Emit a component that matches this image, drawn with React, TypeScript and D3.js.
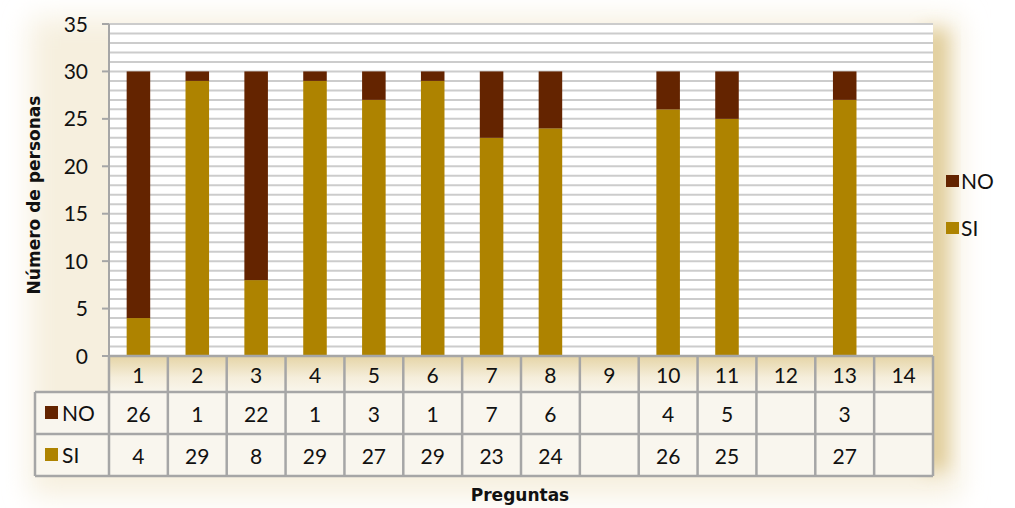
import React from 'react';
import * as d3 from 'd3';

// data
const preguntas = ['1', '2', '3', '4', '5', '6', '7', '8', '9', '10', '11', '12', '13', '14'];
const valoresNO = [26, 1, 22, 1, 3, 1, 7, 6, null, 4, 5, null, 3, null];
const valoresSI = [4, 29, 8, 29, 27, 29, 23, 24, null, 26, 25, null, 27, null];
const yTicks = [0, 5, 10, 15, 20, 25, 30, 35];

const series = [
	{ key: 'SI', label: 'SI', color: '#ae8300', values: valoresSI },
	{ key: 'NO', label: 'NO', color: '#642400', values: valoresNO },
];

const W = 1015;
const H = 508;
const FONT = 'Lato, "Liberation Sans", sans-serif';
const TITLE_FONT = '"DejaVu Sans", Lato, sans-serif';

export default function App() {
	const plot = { left: 109, right: 933, top: 24, bottom: 356 };
	const rows = { header: 392, no: 434, si: 476 };
	const tableLeft = 35;

	const x = d3.scaleBand().domain(preguntas).range([plot.left, plot.right]).paddingInner(0.6).paddingOuter(0.3);
	const y = d3.scaleLinear().domain([0, 35]).range([plot.bottom, plot.top]);
	const step = x.step();
	const cellLeft = (p: string) => (x(p) as number) - step * 0.3;

	const tableData = preguntas.map((p, i) => {
		const row: any = { p };
		series.forEach(s => { row[s.key] = s.values[i] ?? 0; });
		return row;
	});
	const stacked = d3.stack().keys(series.map(s => s.key))(tableData);

	const minor = d3.range(1, 36);

	return (
		<svg width={W} height={H} style={{ position: 'absolute', left: 0, top: 0 }} fontFamily={FONT}>
			<defs>
				<filter id="blur" x="-20%" y="-20%" width="140%" height="140%">
					<feGaussianBlur stdDeviation="14" />
				</filter>
				<filter id="blur2" x="-50%" y="-10%" width="200%" height="120%">
					<feGaussianBlur stdDeviation="9" />
				</filter>
				<linearGradient id="head" x1="0" y1="0" x2="0" y2="1">
					<stop offset="0" stopColor="#e5d4a6" />
					<stop offset="0.6" stopColor="#f5eedb" />
					<stop offset="1" stopColor="#f9f6ec" />
				</linearGradient>
			</defs>

			{/* soft cream background */}
			<rect x={0} y={0} width={W} height={H} fill="#ffffff" />
			<rect x={30} y={18} width={930} height={478} fill="#f6efde" filter="url(#blur)" />
			<rect x={922} y={30} width={26} height={440} fill="#e0cc98" filter="url(#blur2)" />

			{/* plot area */}
			<rect x={plot.left} y={plot.top} width={plot.right - plot.left} height={plot.bottom - plot.top} fill="#ffffff" />
			{minor.map(v => (
				<line key={v} x1={plot.left} x2={plot.right} y1={y(v)} y2={y(v)} stroke="#cccccc" strokeWidth={2} />
			))}

			{/* bars */}
			{stacked.map((layer, li) => (
				<g key={layer.key} fill={series[li].color}>
					{layer.map((d, i) => d[1] - d[0] > 0 ? (
						<rect key={i} x={x(preguntas[i])} width={x.bandwidth()} y={y(d[1])} height={y(d[0]) - y(d[1])} />
					) : null)}
				</g>
			))}

			{/* y axis */}
			<line x1={plot.left} x2={plot.left} y1={plot.top} y2={plot.bottom} stroke="#a6a6a6" strokeWidth={2} />
			{yTicks.map(t => (
				<g key={t}>
					<line x1={plot.left - 7} x2={plot.left} y1={y(t)} y2={y(t)} stroke="#a6a6a6" strokeWidth={2} />
					<text x={88} y={y(t)} dy="0.36em" textAnchor="end" fontSize={21} fill="#111">{t}</text>
				</g>
			))}
			<text transform={`translate(40,${(plot.top + plot.bottom) / 2 + 5}) rotate(-90)`} textAnchor="middle"
				fontFamily={TITLE_FONT} fontSize={17} fontWeight="bold" fill="#111">Número de personas</text>

			{/* data table */}
			<rect x={plot.left} y={plot.bottom} width={plot.right - plot.left} height={rows.header - plot.bottom} fill="url(#head)" />
			<rect x={tableLeft} y={rows.header} width={plot.right - tableLeft} height={rows.si - rows.header} fill="#f9f6ee" />
			{preguntas.map(p => (
				<text key={p} x={(x(p) as number) + x.bandwidth() / 2} y={(plot.bottom + rows.header) / 2 + 1} dy="0.36em"
					textAnchor="middle" fontSize={21} fill="#111">{p}</text>
			))}
			{[{ s: series[1], top: rows.header, bot: rows.no }, { s: series[0], top: rows.no, bot: rows.si }].map(({ s, top, bot }) => (
				<g key={s.key}>
					<rect x={45} y={(top + bot) / 2 - 7} width={13} height={13} fill={s.color} />
					<text x={62} y={(top + bot) / 2} dy="0.36em" fontSize={21} fill="#111">{s.label}</text>
					{s.values.map((v, i) => v == null ? null : (
						<text key={i} x={(x(preguntas[i]) as number) + x.bandwidth() / 2} y={(top + bot) / 2 + 1} dy="0.36em"
							textAnchor="middle" fontSize={21} fill="#111">{v}</text>
					))}
				</g>
			))}
			<g stroke="#a6a6a6" strokeWidth={2.5} fill="none">
				<line x1={plot.left} x2={plot.right} y1={plot.bottom} y2={plot.bottom} />
				{[rows.header, rows.no, rows.si].map(r => (
					<line key={r} x1={tableLeft} x2={plot.right} y1={r} y2={r} />
				))}
				<line x1={tableLeft} x2={tableLeft} y1={rows.header} y2={rows.si} />
				{preguntas.map(p => (
					<line key={p} x1={cellLeft(p)} x2={cellLeft(p)} y1={plot.bottom} y2={rows.si} />
				))}
				<line x1={plot.right} x2={plot.right} y1={plot.bottom} y2={rows.si} />
			</g>
			<text x={(plot.left + plot.right) / 2 - 1} y={501} textAnchor="middle" fontFamily={TITLE_FONT}
				fontSize={17} fontWeight="bold" fill="#111">Preguntas</text>

			{/* legend */}
			{[series[1], series[0]].map((s, i) => (
				<g key={s.key} transform={`translate(946,${175 + i * 47})`}>
					<rect width={13} height={12} fill={s.color} />
					<text x={15} y={6} dy="0.36em" fontSize={21} fill="#111">{s.label}</text>
				</g>
			))}
		</svg>
	);
}
